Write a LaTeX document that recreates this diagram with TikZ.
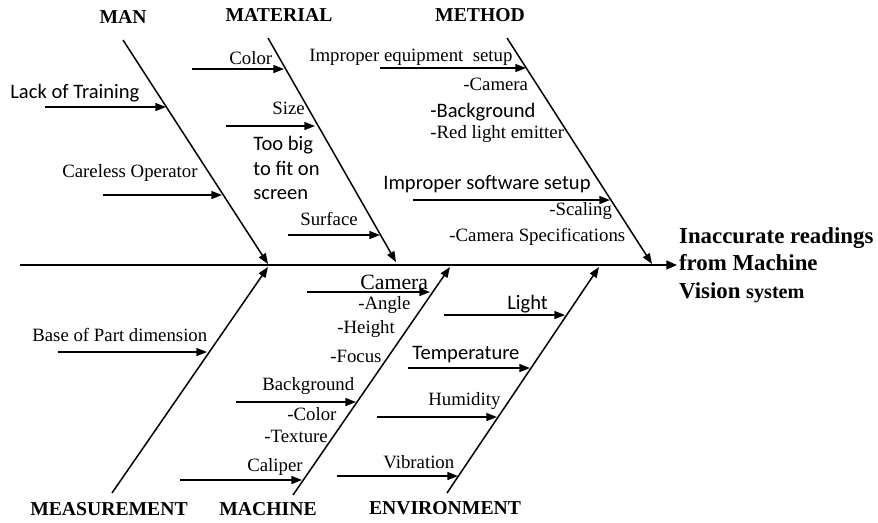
\documentclass[tikz,border=0pt]{standalone}
\usepackage{fontspec}
\setmainfont{Liberation Serif}
\newfontfamily\calibri{Carlito}
\usepackage{tikz}
\usetikzlibrary{arrows.meta}

\begin{document}
\begin{tikzpicture}[
    x=0.02cm, y=-0.02cm,
    spine/.style={line width=0.9pt, -{Triangle[length=6pt, width=5pt]}},
    bone/.style={line width=0.85pt, -{Triangle[length=6pt, width=4.5pt]}},
    cause/.style={line width=0.85pt, -{Triangle[length=6pt, width=4.5pt]}},
    head/.style={inner sep=0pt, font=\fontsize{11.2}{13}\selectfont\bfseries},
    lbl/.style={inner sep=0pt, anchor=west, font=\fontsize{10.7}{13}\selectfont},
    slbl/.style={inner sep=0pt, anchor=west, font=\calibri\fontsize{11.7}{14}\selectfont}
]
    \useasboundingbox (0,0) rectangle (878,522);

    % Headers
    \node[head] (man) at (123,17) {MAN};
    \node[head] (material) at (279,15) {MATERIAL};
    \node[head] (method) at (480,15) {METHOD};
    \node[head] (measurement) at (109,509) {MEASUREMENT};
    \node[head] (machine) at (268,509) {MACHINE};
    \node[head] (environment) at (445,508) {ENVIRONMENT};

    % Effect and spine
    \node[inner sep=1pt, anchor=west, align=left,
          font=\fontsize{13}{15.6}\selectfont\bfseries] (effect) at (677,265)
        {Inaccurate readings\\from Machine\\Vision {\fontsize{11.5}{15.6}\selectfont system}};
    \coordinate (tail) at (20,265);
    \draw[spine] (tail) -- (effect.west);

    % Bones
    \coordinate (man-a) at (123,40);       \coordinate (man-b) at (268,264);
    \coordinate (material-a) at (268,38);  \coordinate (material-b) at (396,262);
    \coordinate (method-a) at (507,38);    \coordinate (method-b) at (652,264);
    \coordinate (measure-a) at (112,493);  \coordinate (measure-b) at (268,267);
    \coordinate (machine-a) at (293,495);  \coordinate (machine-b) at (450,267);
    \coordinate (environ-a) at (447,493);  \coordinate (environ-b) at (599,267);
    \draw[bone] (man-a) -- (man-b);
    \draw[bone] (material-a) -- (material-b);
    \draw[bone] (method-a) -- (method-b);
    \draw[bone] (measure-a) -- (measure-b);
    \draw[bone] (machine-a) -- (machine-b);
    \draw[bone] (environ-a) -- (environ-b);

    % Man
    \coordinate (lack-a) at (45,107);      \coordinate (lack-b) at (166,107);
    \coordinate (careless-a) at (103,195); \coordinate (careless-b) at (222,195);
    \draw[cause] (lack-a) -- (lack-b);
    \draw[cause] (careless-a) -- (careless-b);
    \node[slbl] (lack) at (10,93) {Lack of Training};
    \node[lbl] (careless) at (62,173) {Careless Operator};

    % Material
    \coordinate (color-a) at (192,69);     \coordinate (color-b) at (284,69);
    \coordinate (size-a) at (226,126);     \coordinate (size-b) at (315,126);
    \coordinate (surface-a) at (288,235);  \coordinate (surface-b) at (380,235);
    \draw[cause] (color-a) -- (color-b);
    \draw[cause] (size-a) -- (size-b);
    \draw[cause] (surface-a) -- (surface-b);
    \node[lbl] (color) at (229,58) {Color};
    \node[lbl] (size) at (272,108) {Size};
    \node[slbl, align=left] (toobig) at (253,168) {Too big\\to fit on\\screen};
    \node[lbl] (surface) at (300,219) {Surface};

    % Method
    \coordinate (equip-a) at (380,68);     \coordinate (equip-b) at (526,68);
    \coordinate (soft-a) at (413,200);     \coordinate (soft-b) at (610,200);
    \draw[cause] (equip-a) -- (equip-b);
    \draw[cause] (soft-a) -- (soft-b);
    \node[lbl] (equip) at (309,57) {Improper equipment\ \ setup};
    \node[lbl] (eq1) at (463,84) {-Camera};
    \node[slbl] (eq2) at (430,112) {-Background};
    \node[lbl] (eq3) at (430,134) {-Red light emitter};
    \node[slbl] (soft) at (383,184) {Improper software setup};
    \node[lbl] (sw1) at (549,211) {-Scaling};
    \node[lbl] (sw2) at (449,237) {-Camera Specifications};

    % Measurement
    \coordinate (base-a) at (58,352);      \coordinate (base-b) at (207,352);
    \draw[cause] (base-a) -- (base-b);
    \node[lbl] (base) at (32,335) {Base of Part dimension};

    % Machine
    \coordinate (camera-a) at (307,292);   \coordinate (camera-b) at (430,292);
    \coordinate (backg-a) at (236,402);    \coordinate (backg-b) at (356,402);
    \coordinate (caliper-a) at (180,480);  \coordinate (caliper-b) at (302,480);
    \draw[cause] (camera-a) -- (camera-b);
    \draw[cause] (backg-a) -- (backg-b);
    \draw[cause] (caliper-a) -- (caliper-b);
    \node[lbl, font=\fontsize{12.4}{14}\selectfont] (camera) at (360,282) {Camera};
    \node[lbl] (cam1) at (358,305) {-Angle};
    \node[lbl] (cam2) at (337,329) {-Height};
    \node[lbl] (cam3) at (330,356) {-Focus};
    \node[lbl] (backg) at (262,386) {Background};
    \node[lbl] (bg1) at (287,414) {-Color};
    \node[lbl] (bg2) at (264,436) {-Texture};
    \node[lbl] (caliper) at (247,467) {Caliper};

    % Environment
    \coordinate (light-a) at (444,315);    \coordinate (light-b) at (565,315);
    \coordinate (temp-a) at (408,368);     \coordinate (temp-b) at (530,368);
    \coordinate (humid-a) at (377,417);    \coordinate (humid-b) at (497,417);
    \coordinate (vib-a) at (337,476);      \coordinate (vib-b) at (458,476);
    \draw[cause] (light-a) -- (light-b);
    \draw[cause] (temp-a) -- (temp-b);
    \draw[cause] (humid-a) -- (humid-b);
    \draw[cause] (vib-a) -- (vib-b);
    \node[slbl] (light) at (507,304) {Light};
    \node[slbl] (temp) at (412,355) {Temperature};
    \node[lbl] (humid) at (428,401) {Humidity};
    \node[lbl] (vib) at (383,462) {Vibration};
\end{tikzpicture}
\end{document}
